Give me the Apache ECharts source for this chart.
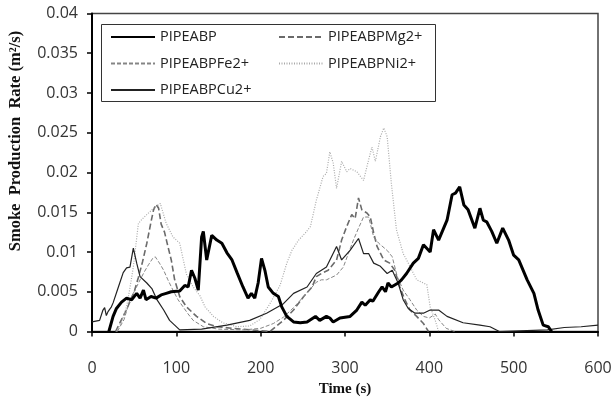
<!DOCTYPE html>
<html>
<head>
<meta charset="utf-8">
<script src="https://cdn.jsdelivr.net/npm/echarts@6/dist/echarts.min.js"></script>
<style>
  html, body { margin: 0; padding: 0; background: #fff; }
  #smokeChart { width: 613px; height: 398px; }
</style>
</head>
<body>
<div id="smokeChart"></div>
<script>
// time (s), smoke production rate (m2/s)
const pipeabp = [[20,0],[25,0.0019],[29,0.0029],[35,0.0037],[41,0.0042],[47,0.004],[53,0.0048],[57,0.0042],[61,0.0052],[64,0.004],[70,0.0044],[76,0.0042],[82,0.0046],[88,0.0048],[94,0.005],[104,0.0051],[110,0.0058],[114,0.0056],[118,0.0077],[122,0.0067],[126,0.0052],[130,0.0119],[132,0.0126],[136,0.009],[142,0.0121],[148,0.0115],[154,0.0111],[160,0.0099],[166,0.009],[172,0.0074],[179,0.0056],[185,0.0042],[189,0.0048],[193,0.0042],[197,0.0061],[201,0.0092],[205,0.0077],[209,0.0056],[215,0.0048],[221,0.0044],[225,0.0031],[231,0.0019],[239,0.0012],[247,0.0011],[255,0.0012],[265,0.0019],[270,0.0014],[278,0.0019],[282,0.0017],[286,0.0012],[294,0.0017],[306,0.0019],[314,0.0027],[320,0.0037],[324,0.0033],[330,0.004],[333,0.0038],[340,0.005],[344,0.0056],[348,0.005],[351,0.0061],[355,0.0056],[363,0.0061],[367,0.0065],[373,0.0073],[381,0.0086],[387,0.0092],[393,0.0109],[401,0.01],[405,0.0128],[411,0.0115],[421,0.014],[427,0.0172],[431,0.0174],[436,0.0182],[441,0.0159],[446,0.0153],[454,0.013],[460,0.0155],[464,0.014],[468,0.0138],[474,0.0126],[480,0.0111],[487,0.013],[494,0.0115],[500,0.0096],[506,0.009],[516,0.0065],[524,0.0048],[529,0.0027],[535,0.0008],[541,0.0006],[545,0]]

const pipeabpMg = [[28,0],[35,0.0015],[42,0.003],[50,0.005],[55,0.0068],[60,0.0088],[65,0.0111],[70,0.0138],[73,0.0153],[76,0.016],[79,0.0155],[82,0.0135],[86,0.0125],[90,0.0107],[94,0.009],[98,0.0065],[104,0.0044],[112,0.0031],[124,0.0019],[136,0.001],[148,0.0006],[167,0.0004],[190,0.0002],[211,0],[227,0.0014],[239,0.0027],[251,0.0044],[261,0.0056],[266,0.0069],[272,0.0073],[280,0.0077],[290,0.009],[296,0.0115],[302,0.0132],[308,0.0147],[312,0.0142],[316,0.0168],[320,0.0153],[326,0.0149],[330,0.0144],[334,0.0124],[338,0.0107],[346,0.009],[353,0.0086],[359,0.0077],[365,0.0056],[371,0.004],[377,0.0027],[385,0.0019],[393,0.001],[399,0]]

const pipeabpFe = [[30,0],[38,0.0015],[45,0.004],[50,0.005],[57,0.0065],[62,0.0075],[67,0.0084],[72,0.0092],[75,0.0094],[80,0.0086],[85,0.0077],[90,0.0065],[96,0.0052],[102,0.004],[108,0.0031],[114,0.0022],[120,0.0014],[132,0.0006],[150,0.0003],[180,0.0002],[200,0.0004],[215,0.001],[227,0.0018],[239,0.003],[251,0.0044],[261,0.0056],[266,0.0062],[272,0.0065],[278,0.0065],[290,0.0071],[298,0.0081],[304,0.0098],[310,0.0115],[316,0.013],[322,0.0144],[328,0.0144],[334,0.0119],[340,0.0111],[350,0.0102],[356,0.0094],[362,0.0069],[369,0.0052],[377,0.004],[385,0.0027],[393,0.0019],[400,0.0017],[407,0.0022],[411,0.0015],[420,0.0004],[430,0]]

const pipeabpNi = [[29,0],[35,0.0012],[41,0.0031],[45,0.0055],[49,0.0081],[55,0.0136],[60,0.0142],[65,0.0147],[73,0.0155],[81,0.0161],[88,0.0136],[96,0.0119],[104,0.0111],[112,0.0072],[120,0.0056],[128,0.0045],[134,0.0031],[144,0.0019],[155,0.0011],[172,0.0006],[187,0.0007],[199,0.0015],[211,0.0035],[223,0.0058],[231,0.0086],[237,0.0102],[245,0.0115],[253,0.0124],[259,0.0132],[266,0.0165],[274,0.0195],[278,0.0199],[282,0.0226],[286,0.0212],[290,0.018],[296,0.0214],[302,0.0201],[306,0.0205],[314,0.0201],[322,0.019],[328,0.0216],[332,0.0232],[336,0.0214],[342,0.0245],[346,0.0256],[350,0.0245],[355,0.0186],[361,0.0128],[369,0.0098],[377,0.0082],[385,0.0065],[393,0.0061],[397,0.0059],[401,0.0031],[407,0.0014],[411,0]]

const pipeabpCu = [[0,0.0012],[9,0.0014],[13,0.0027],[15,0.003],[17,0.002],[19,0.0025],[23,0.0031],[25,0.0036],[31,0.0055],[37,0.0074],[41,0.008],[45,0.0081],[49,0.0105],[51,0.0103],[53,0.0086],[57,0.0069],[65,0.0061],[71,0.0054],[77,0.004],[85,0.0027],[92,0.0014],[98,0.0008],[104,0.0002],[130,0.0003],[160,0.0008],[187,0.0014],[207,0.0023],[227,0.0035],[239,0.0048],[255,0.0056],[266,0.0073],[278,0.0081],[290,0.0107],[296,0.009],[306,0.0102],[316,0.0117],[322,0.0098],[328,0.0098],[334,0.0086],[342,0.0082],[350,0.0073],[356,0.0077],[363,0.0061],[369,0.004],[375,0.0029],[383,0.0023],[393,0.0023],[401,0.0027],[411,0.0027],[421,0.0019],[440,0.0011],[460,0.0008],[472,0.0006],[483,0],[540,0.0002],[560,0.0005],[580,0.0006],[600,0.0008]]

const xTicks = { min: 0, max: 600, interval: 100 }
const yTicks = { min: 0, max: 0.04, interval: 0.005 }

const labelFont = 'Open Sans, sans-serif'
const titleFont = 'Liberation Serif, Times New Roman, serif'

let myChart = echarts.init(document.getElementById('smokeChart'))

function line (name, data, color, width, type) {
  return {
    name: name,
    type: 'line',
    data: data,
    symbol: 'none',
    smooth: false,
    lineStyle: { color: color, width: width, type: type },
    itemStyle: { color: color },
    z: name === 'PIPEABP' ? 5 : 3
  }
}

// legend shows only the line sample, no marker
let legendBase = {
  orient: 'vertical',
  top: 29.5,
  padding: 0,
  itemWidth: 44,
  itemHeight: 14,
  itemGap: 11.5,
  selectedMode: false,
  itemStyle: { color: 'rgba(0,0,0,0)', borderColor: 'rgba(0,0,0,0)', borderWidth: 0 },
  textStyle: { fontSize: 14.5, color: '#222', fontFamily: labelFont }
}

let option = {
  animation: false,
  backgroundColor: '#fff',
  grid: {
    left: 92,
    right: 15,
    top: 13.5,
    bottom: 66.5,
    show: true,
    borderColor: '#444',
    borderWidth: 1.5,
    outerBoundsMode: 'none'
  },
  legend: [
    Object.assign({}, legendBase, { data: ['PIPEABP', 'PIPEABPFe2+', 'PIPEABPCu2+'], left: 110 }),
    Object.assign({}, legendBase, { data: ['PIPEABPMg2+', 'PIPEABPNi2+'], left: 278 })
  ],
  graphic: [
    // legend frame
    {
      type: 'rect',
      shape: { x: 101.5, y: 24.5, width: 334, height: 77 },
      style: { fill: 'none', stroke: '#333', lineWidth: 1 },
      z: 100
    },
    // y axis title
    {
      type: 'text',
      x: 16,
      y: 141,
      rotation: Math.PI / 2,
      style: {
        text: 'Smoke  Production  Rate (m²/s)',
        font: 'bold 16.5px ' + titleFont,
        fill: '#111',
        align: 'center',
        verticalAlign: 'middle'
      }
    }
  ],
  xAxis: {
    type: 'value',
    min: xTicks.min,
    max: xTicks.max,
    interval: xTicks.interval,
    name: 'Time (s)',
    nameLocation: 'middle',
    nameGap: 50,
    nameTextStyle: { fontFamily: titleFont, fontWeight: 'bold', fontSize: 15, color: '#111' },
    axisLine: { show: true, lineStyle: { color: '#000', width: 2 } },
    axisTick: { show: true, length: 5, lineStyle: { color: '#000', width: 1.5 } },
    axisLabel: { margin: 29, fontSize: 16, color: '#333', fontFamily: labelFont },
    splitLine: { show: false }
  },
  yAxis: {
    type: 'value',
    min: yTicks.min,
    max: yTicks.max,
    interval: yTicks.interval,
    axisLine: { show: true, lineStyle: { color: '#000', width: 2 } },
    axisTick: { show: true, length: 5, lineStyle: { color: '#000', width: 1.5 } },
    axisLabel: {
      margin: 14,
      fontSize: 16,
      color: '#333',
      fontFamily: labelFont,
      formatter: function (v) { return String(+v.toFixed(3)) }
    },
    splitLine: { show: false }
  },
  series: [
    line('PIPEABP', pipeabp, '#000', 3, 'solid'),
    line('PIPEABPMg2+', pipeabpMg, '#6a6a6a', 1.6, [6, 3]),
    line('PIPEABPFe2+', pipeabpFe, '#858585', 1, [4, 2]),
    line('PIPEABPNi2+', pipeabpNi, '#aaa', 1.2, [1, 1.5]),
    line('PIPEABPCu2+', pipeabpCu, '#222', 1.2, 'solid')
  ]
}
myChart.setOption(option)
</script>
</body>
</html>
